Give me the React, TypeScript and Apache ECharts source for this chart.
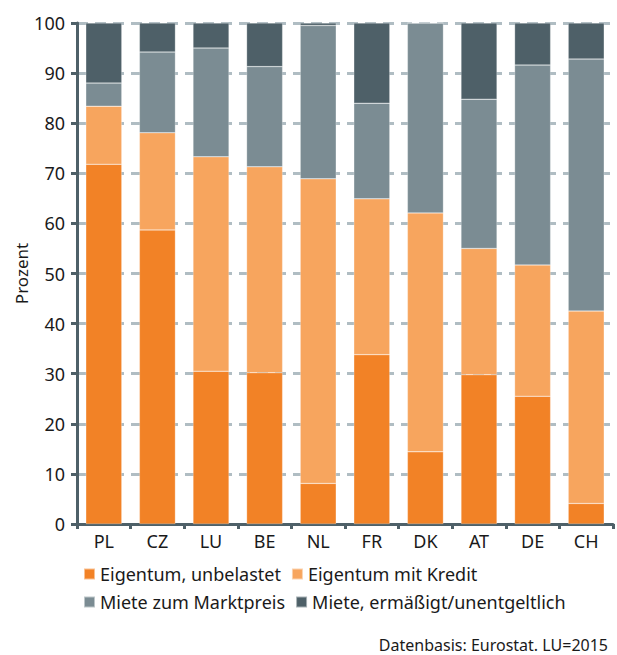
import React, { useEffect, useRef } from "react";
import * as echarts from "echarts";

const categories = ["PL", "CZ", "LU", "BE", "NL", "FR", "DK", "AT", "DE", "CH"];
const seriesNames = [
  "Eigentum, unbelastet",
  "Eigentum mit Kredit",
  "Miete zum Marktpreis",
  "Miete, ermäßigt/unentgeltlich",
];
const eigentumUnbelastet = [71.8, 58.7, 30.5, 30.2, 8.1, 33.8, 14.4, 29.8, 25.5, 4.1];
const eigentumKredit = [11.6, 19.4, 42.8, 41.1, 60.8, 31.1, 47.7, 25.2, 26.2, 38.4];
const mieteMarkt = [4.6, 16.1, 21.7, 20.0, 30.6, 19.1, 37.9, 29.8, 39.9, 50.3];
const mieteErmaessigt = [12.0, 5.8, 5.0, 8.7, 0.5, 16.0, 0.0, 15.2, 8.4, 7.2];
const yTicks = [0, 10, 20, 30, 40, 50, 60, 70, 80, 90, 100];
const colors = ["#f28226", "#f7a55e", "#7b8c93", "#4e6068"];
const FONT = "'Noto Sans', sans-serif";

export default function App() {
  const ref = useRef<HTMLDivElement>(null);
  useEffect(() => {
    if (!ref.current) return;
    document.body.style.margin = "0";
    document.body.style.overflow = "hidden";
    const chart = echarts.init(ref.current, undefined, { renderer: "svg" });
    const values = [eigentumUnbelastet, eigentumKredit, mieteMarkt, mieteErmaessigt];
    const legendCommon = {
      left: 83,
      padding: 0,
      itemWidth: 11,
      itemHeight: 11,
      itemGap: 10,
      icon: "rect",
      textStyle: { fontSize: 18, color: "#1a1a1a", width: 196, fontFamily: FONT },
    };
    chart.setOption({
      animation: false,
      textStyle: { fontFamily: FONT },
      grid: { left: 77, right: 4, top: 23, bottom: 131 },
      xAxis: {
        type: "category",
        data: categories,
        axisLine: { lineStyle: { color: "#4e6068", width: 3 } },
        axisTick: { show: true, length: 5, lineStyle: { color: "#4e6068", width: 3 } },
        axisLabel: { color: "#1a1a1a", fontSize: 18, margin: 8, fontFamily: FONT },
      },
      yAxis: {
        type: "value",
        min: yTicks[0],
        max: yTicks[yTicks.length - 1],
        interval: 10,
        name: "Prozent",
        nameLocation: "middle",
        nameGap: 47,
        nameMoveOverlap: false,
        nameTextStyle: { color: "#1a1a1a", fontSize: 17, fontFamily: FONT },
        axisLine: { show: true, lineStyle: { color: "#4e6068", width: 3 } },
        axisTick: { show: true, length: 6, lineStyle: { color: "#4e6068", width: 3 } },
        axisLabel: { color: "#1a1a1a", fontSize: 18, margin: 12, fontFamily: FONT },
        splitLine: {
          show: true,
          lineStyle: { color: "#b0bdc3", width: 3, type: [11, 7] },
        },
      },
      legend: [
        { ...legendCommon, data: [seriesNames[0], seriesNames[1]], top: 565 },
        { ...legendCommon, data: [seriesNames[2], seriesNames[3]], top: 593 },
      ],
      graphic: [
        {
          type: "text",
          x: 608,
          y: 645,
          style: {
            text: "Datenbasis: Eurostat. LU=2015",
            fontSize: 16,
            lineHeight: 16,
            fill: "#1a1a1a",
            fontFamily: FONT,
            align: "right",
            verticalAlign: "middle",
          },
        },
      ],
      series: seriesNames.map((name, i) => ({
        name,
        type: "bar",
        stack: "total",
        barWidth: 36,
        data: values[i],
        itemStyle: { color: colors[i], borderColor: "rgba(255,255,255,0.5)", borderWidth: 0.5 },
      })),
    });
    return () => chart.dispose();
  }, []);
  return (
    <div
      ref={ref}
      style={{ position: "absolute", left: 0, top: 0, width: 617, height: 655 }}
    />
  );
}
